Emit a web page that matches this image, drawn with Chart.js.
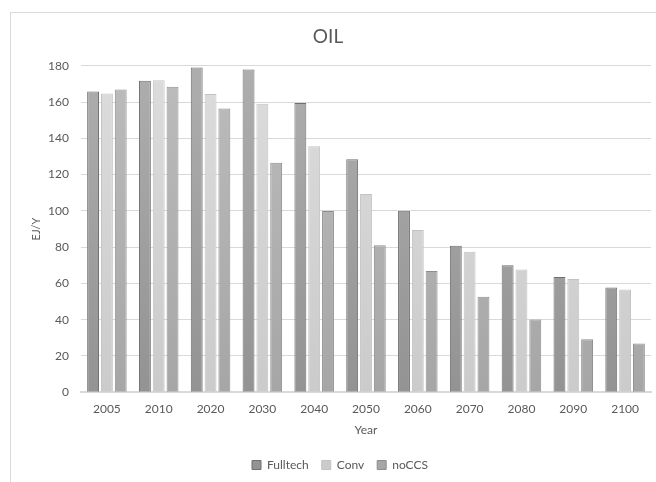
<!DOCTYPE html>
<html>
<head>
<meta charset="utf-8">
<script src="https://cdn.jsdelivr.net/npm/chart.js@4.4.1/dist/chart.umd.min.js"></script>
<style>
  html, body { margin: 0; padding: 0; background: #ffffff; }
  #wrap { position: relative; width: 656px; height: 482px; }
</style>
</head>
<body>
<div id="wrap"><canvas id="oil" width="656" height="482"></canvas></div>
<script>
// Oil primary energy by scenario (EJ per year)
const years = ['2005', '2010', '2020', '2030', '2040', '2050', '2060', '2070', '2080', '2090', '2100'];
const fulltech = [165.8, 171.7, 179.1, 178.0, 159.5, 128.5, 100.0, 80.8, 70.0, 63.5, 57.8];
const conv     = [164.7, 172.0, 164.5, 159.1, 135.7, 109.3, 89.5, 77.5, 67.6, 62.4, 56.7];
const noccs    = [166.9, 168.5, 156.4, 126.6, 99.9, 81.1, 66.8, 52.6, 40.1, 29.2, 26.8];
const yTicks   = [0, 20, 40, 60, 80, 100, 120, 140, 160, 180];

const textColor = '#595959';
const fontFamily = 'Lato, "Open Sans", "Liberation Sans", sans-serif';

// vertical shading for each series, top colour to bottom colour
function shade(top, bottom) {
  return (ctx) => {
    const area = ctx.chart.chartArea;
    if (!area) return bottom;
    const g = ctx.chart.ctx.createLinearGradient(0, area.top, 0, area.bottom);
    g.addColorStop(0, top);
    g.addColorStop(1, bottom);
    return g;
  };
}

// thin frame around the whole chart
const frame = {
  id: 'frame',
  beforeDraw(chart) {
    const c = chart.ctx;
    c.save();
    c.strokeStyle = '#d9d9d9';
    c.lineWidth = 1;
    c.strokeRect(10.5, 12.5, 700, 600);
    c.restore();
  }
};

// the legend sits a little right of the title's centre line
const legendNudge = {
  id: 'legendNudge',
  afterLayout(chart) {
    if (chart.legend) {
      chart.legend.left += 12;
      chart.legend.right += 12;
    }
  }
};

new Chart(document.getElementById('oil'), {
  type: 'bar',
  data: {
    labels: years,
    datasets: [
      { label: 'Fulltech', data: fulltech, backgroundColor: shade('#aeaeae', '#939393'), borderColor: '#6f6f6f', borderWidth: 1 },
      { label: 'Conv', data: conv, backgroundColor: shade('#dcdcdc', '#cbcbcb'), borderColor: '#c2c2c2', borderWidth: 1 },
      { label: 'noCCS', data: noccs, backgroundColor: shade('#bcbcbc', '#a6a6a6'), borderColor: '#8e8e8e', borderWidth: 1 }
    ]
  },
  options: {
    responsive: false,
    animation: false,
    layout: { padding: { left: 5, right: 5, top: 12, bottom: 1 } },
    datasets: { bar: { categoryPercentage: 0.8, barPercentage: 0.86 } },
    plugins: {
      title: {
        display: true,
        text: 'OIL',
        color: textColor,
        font: { family: fontFamily, size: 19, weight: 'normal' },
        padding: { top: 13, bottom: 18 }
      },
      legend: {
        position: 'bottom',
        labels: {
          color: textColor,
          font: { family: fontFamily, size: 12 },
          boxWidth: 9,
          boxHeight: 9,
          padding: 13
        }
      },
      tooltip: { enabled: false }
    },
    scales: {
      x: {
        grid: { display: false, drawTicks: false },
        border: { display: true, color: '#d9d9d9', width: 2 },
        ticks: { color: textColor, font: { family: fontFamily, size: 12 }, padding: 10 },
        title: { display: true, text: 'Year', color: textColor, font: { family: fontFamily, size: 12 }, padding: { top: 0, bottom: 9 } },
        afterFit(axis) { axis.height -= 4; }
      },
      y: {
        min: 0,
        max: 180,
        afterBuildTicks(axis) { axis.ticks = yTicks.map(v => ({ value: v })); },
        grid: { color: '#d9d9d9', drawTicks: false },
        border: { display: false },
        ticks: { color: textColor, font: { family: fontFamily, size: 12 }, padding: 12 },
        title: { display: true, text: 'EJ/Y', color: textColor, font: { family: fontFamily, size: 11 }, padding: { top: 25, bottom: 6 } },
        afterFit(axis) { axis.width = 76; }
      }
    }
  },
  plugins: [frame, legendNudge]
});
</script>
</body>
</html>
